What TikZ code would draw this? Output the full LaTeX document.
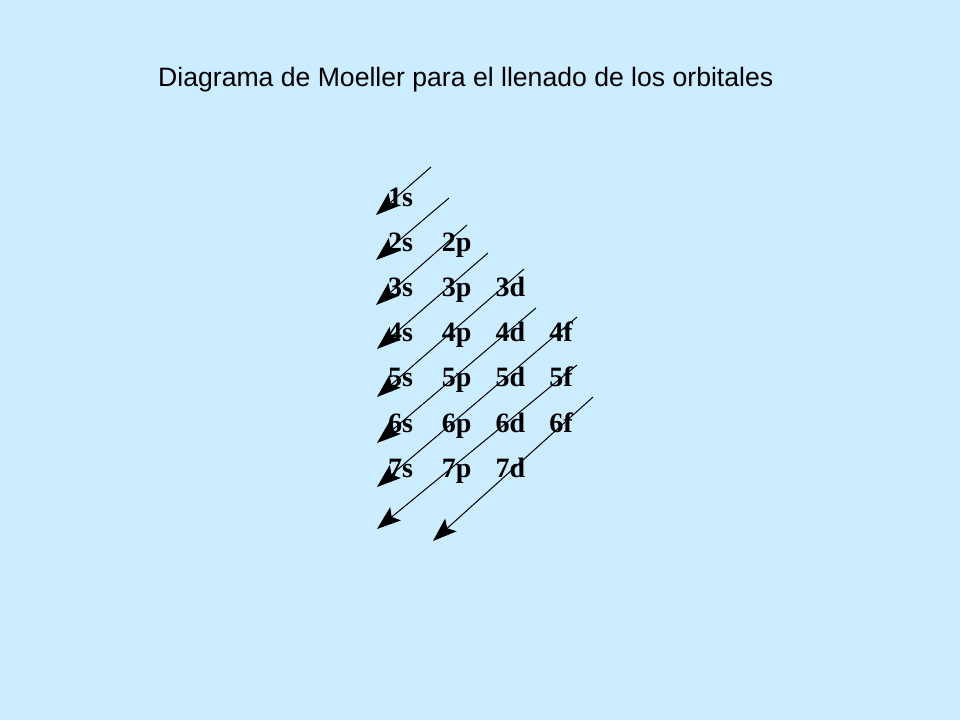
\documentclass[tikz,border=0pt]{standalone}
\usepackage{fontspec}
\setmainfont{Liberation Serif}
\newfontfamily\titlefont{Liberation Sans}
\usetikzlibrary{arrows.meta}
\definecolor{bgblue}{RGB}{204,236,255}
\begin{document}
\begin{tikzpicture}[x=1pt,y=-1pt,
  orb/.style={anchor=base west,inner sep=0pt,font=\fontsize{28}{28}\selectfont\bfseries},
  diag/.style={draw=black,line width=1pt,-{Stealth[length=24pt,width=17pt,inset=5pt]}}]
\fill[bgblue] (0,0) rectangle (960,720);
\useasboundingbox (0,0) rectangle (960,720);
\node[anchor=base west,inner sep=0pt,font=\titlefont\fontsize{26.6}{27}\selectfont] (title) at (158,86) {Diagrama de Moeller para el llenado de los orbitales};
% orbital labels
\foreach \n/\l/\t in {1/0/1s,2/0/2s,2/1/2p,3/0/3s,3/1/3p,3/2/3d,4/0/4s,4/1/4p,4/2/4d,4/3/4f,5/0/5s,5/1/5p,5/2/5d,5/3/5f,6/0/6s,6/1/6p,6/2/6d,6/3/6f,7/0/7s,7/1/7p,7/2/7d}{
  \node[orb] (o\t) at ({388+53.7*\l},{206+45.2*(\n-1)}) {\t};
}
% arrow end points
\coordinate (a1) at (431,167); \coordinate (b1) at (376,215);
\coordinate (a2) at (449,198); \coordinate (b2) at (376,260);
\coordinate (a3) at (467,225); \coordinate (b3) at (376,305);
\coordinate (a4) at (488,253); \coordinate (b4) at (377,349);
\coordinate (a5) at (524,269); \coordinate (b5) at (377,397);
\coordinate (a6) at (536,308); \coordinate (b6) at (377,443);
\coordinate (a7) at (577,317); \coordinate (b7) at (377,487);
\coordinate (a8) at (577,365); \coordinate (b8) at (377,529);
\coordinate (a9) at (593,397); \coordinate (b9) at (433,541);
\foreach \i in {1,...,9}{\draw[diag] (a\i) -- (b\i);}
\end{tikzpicture}
\end{document}
